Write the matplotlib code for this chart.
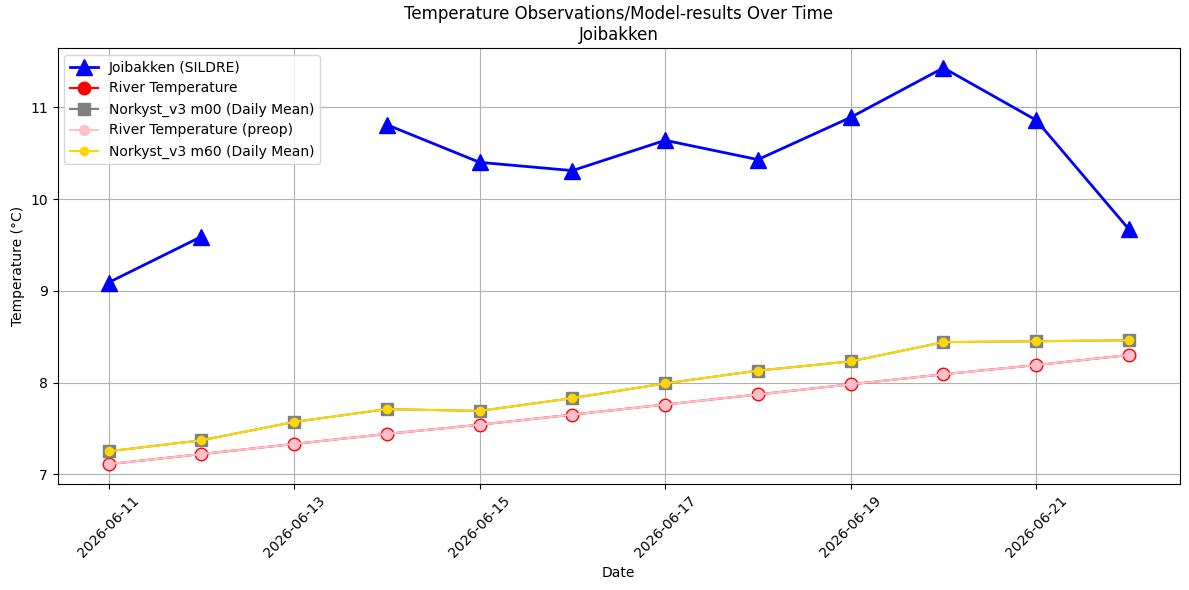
import numpy as np
import pandas as pd
import matplotlib
matplotlib.use("Agg")
import matplotlib.pyplot as plt
import matplotlib.dates as mdates

dates = pd.date_range("2026-06-11", "2026-06-22", freq="D")
sildre = [9.09, 9.59, np.nan, 10.81, 10.40, 10.31, 10.64, 10.43, 10.89, 11.43, 10.86, 9.67]
river = [7.11, 7.22, 7.33, 7.44, 7.54, 7.65, 7.76, 7.87, 7.98, 8.09, 8.19, 8.30]
river_preop = [7.11, 7.22, 7.33, 7.44, 7.54, 7.65, 7.76, 7.87, 7.98, 8.09, 8.19, 8.30]
m00 = [7.25, 7.37, 7.57, 7.71, 7.69, 7.83, 7.99, 8.13, 8.23, 8.44, 8.45, 8.46]
m60 = [7.25, 7.37, 7.57, 7.71, 7.69, 7.83, 7.99, 8.13, 8.23, 8.44, 8.45, 8.46]

fig, ax = plt.subplots(figsize=(11.89, 5.9), dpi=100)
ax.plot(dates, sildre, color="blue", marker="^", markersize=12, linewidth=2, label="Joibakken (SILDRE)")
ax.plot(dates, river, color="red", marker="o", markersize=9, label="River Temperature")
ax.plot(dates, m00, color="gray", marker="s", markersize=9, label="Norkyst_v3 m00 (Daily Mean)")
ax.plot(dates, river_preop, color="pink", marker="o", markersize=7, label="River Temperature (preop)")
ax.plot(dates, m60, color="gold", marker="o", markersize=6, label="Norkyst_v3 m60 (Daily Mean)")

ax.xaxis.set_major_locator(mdates.DayLocator(bymonthday=range(11, 32, 2)))
ax.xaxis.set_major_formatter(mdates.DateFormatter("%Y-%m-%d"))
plt.setp(ax.get_xticklabels(), rotation=45)
ax.set_xlabel("Date")
ax.set_ylabel("Temperature (°C)")
ax.set_title("Temperature Observations/Model-results Over Time\nJoibakken")
ax.grid(True)
ax.legend(loc="upper left")
fig.subplots_adjust(left=0.0484, right=0.9924, top=0.9186, bottom=0.1797)
fig.savefig("out.png")
